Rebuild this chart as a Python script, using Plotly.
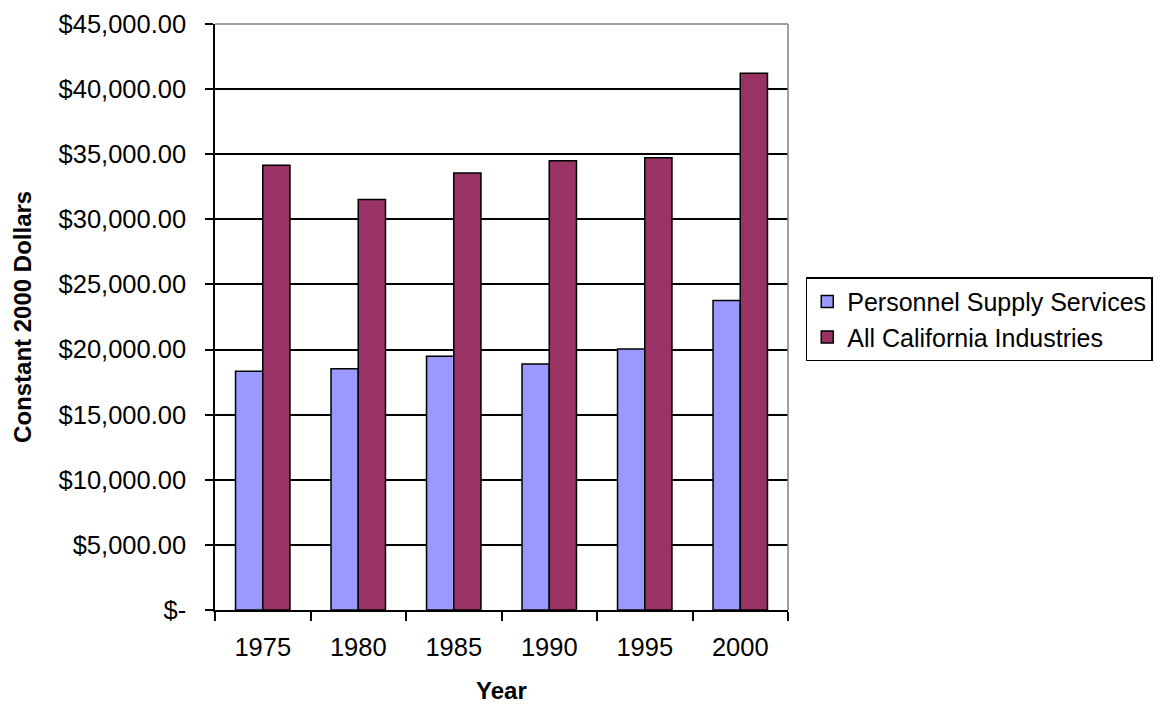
"""Average annual pay: Personnel Supply Services vs all California industries."""

import plotly.graph_objects as go

years = ["1975", "1980", "1985", "1990", "1995", "2000"]
personnel_supply = [18340, 18520, 19490, 18900, 20050, 23770]
all_california = [34160, 31530, 33550, 34490, 34720, 41220]

y_ticks = [0, 5000, 10000, 15000, 20000, 25000, 30000, 35000, 40000, 45000]
y_tick_text = ["$-", "$5,000.00", "$10,000.00", "$15,000.00", "$20,000.00",
               "$25,000.00", "$30,000.00", "$35,000.00", "$40,000.00", "$45,000.00"]

FONT = "Liberation Sans, Arial, sans-serif"

fig = go.Figure()
fig.add_trace(go.Bar(
    x=years, y=personnel_supply, name="Personnel Supply Services",
    marker=dict(color="#9999FF", line=dict(color="black", width=1.5)),
))
fig.add_trace(go.Bar(
    x=years, y=all_california, name="All California Industries",
    marker=dict(color="#993366", line=dict(color="black", width=1.5)),
))

# the page body keeps its 8px margin, so the figure is 8px smaller each way
fig.update_layout(
    width=1154, height=696,
    margin=dict(l=207, r=374, t=16, b=94, autoexpand=False),
    paper_bgcolor="white", plot_bgcolor="white",
    font=dict(family=FONT, size=25.5, color="black"),
    barmode="group", bargap=0.43, bargroupgap=0,
    showlegend=True,
    legend=dict(
        x=1.031, y=0.568, xanchor="left", yanchor="top",
        bordercolor="black", borderwidth=1.5, bgcolor="white",
        font=dict(size=25), tracegroupgap=0, itemwidth=30,
    ),
    xaxis=dict(
        showline=True, linecolor="black", linewidth=1.5,
        ticks="outside", ticklen=9, tickcolor="black", tickwidth=1.5,
        tickson="boundaries", showgrid=False,
        ticklabelstandoff=14,
    ),
    yaxis=dict(
        range=[0, 45000], tickvals=y_ticks, ticktext=y_tick_text,
        showline=True, linecolor="black", linewidth=1.5,
        ticks="outside", ticklen=8, tickcolor="black", tickwidth=1.5,
        showgrid=True, gridcolor="black", gridwidth=1.5,
        zeroline=False, ticklabelstandoff=14,
    ),
    shapes=[
        dict(type="line", xref="paper", yref="paper", x0=0, x1=1, y0=1, y1=1,
             line=dict(color="#808080", width=1.5)),
        dict(type="line", xref="paper", yref="paper", x0=1, x1=1, y0=0, y1=1,
             line=dict(color="#808080", width=1.5)),
    ],
    annotations=[
        dict(text="<b>Year</b>", xref="paper", yref="paper", x=0.5, y=-0.137,
             xanchor="center", yanchor="middle", showarrow=False,
             font=dict(size=24)),
        dict(text="<b>Constant 2000 Dollars</b>", xref="paper", yref="paper",
             x=-0.337, y=0.5, xanchor="center", yanchor="middle",
             textangle=-90, showarrow=False, font=dict(size=24)),
    ],
)

fig.write_html("out.html")
